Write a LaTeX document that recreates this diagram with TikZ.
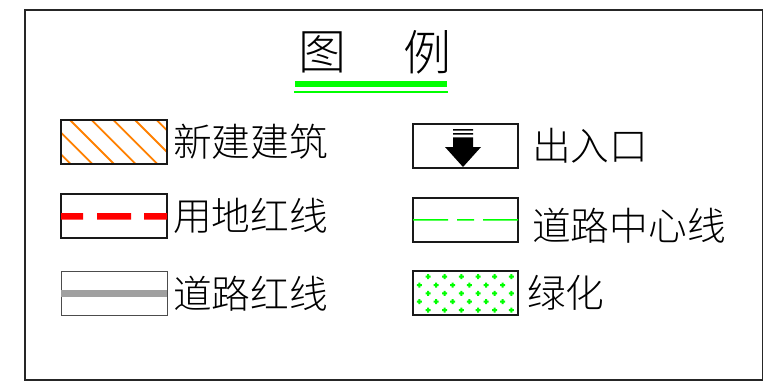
\documentclass[tikz,border=0pt]{standalone}
\usepackage{fontspec}
\newfontfamily\cjk{Noto Sans CJK SC Light}
\definecolor{hatch}{HTML}{FF8000}
\definecolor{gline}{HTML}{00FF00}
\definecolor{groad}{HTML}{A0A0A0}
\tikzset{
  legendbox/.style={draw=black!90,line width=2pt,minimum width=105pt,minimum height=44pt,inner sep=0pt,outer sep=0pt,anchor=north west},
  lab/.style={font=\cjk\fontsize{38.7}{38.7}\selectfont,anchor=west,inner sep=0pt,text=black},
  titlelab/.style={font=\cjk\fontsize{48}{48}\selectfont,anchor=center,inner sep=0pt,text=black},
  hatchline/.style={draw=hatch,line width=1.8pt},
}
\newcommand{\plusat}[2]{\fill[gline] (#1-2.5,#2-1) rectangle (#1+2.5,#2+1) (#1-1,#2-2.5) rectangle (#1+1,#2+2.5);}
\begin{document}
\begin{tikzpicture}[x=1pt,y=-1pt]
\useasboundingbox (0,0) rectangle (763,383);
\draw[black!85,line width=1.4pt] (25,10) rectangle (762.2,380);
% title
\node[titlelab] (t1) at (322,52) {图};
\node[titlelab] (t2) at (427,52) {例};
\fill[gline] (294.7,80.7) rectangle (447.3,86.7);
\fill[gline] (294,90.9) rectangle (448,92.6);
% hatch box
\begin{scope}
\clip (61,120) rectangle (167,164);
\foreach \x in {70,91.7,113.3,135,156.7,48.4,26.7}
  \draw[hatchline] (\x,120)--(\x+44,164);
\end{scope}
\node[legendbox,minimum width=106pt] (a) at (61,120) {};
\node[lab] (la) at (173,142) {新建建筑};
% red
\node[legendbox,minimum width=106pt] (b) at (61,194) {};
\fill[red] (61,213) rectangle (83,219.5) (97,213) rectangle (131,219.5) (144,213) rectangle (167,219.5);
\node[lab] (lb) at (173,216) {用地红线};
% grey
\node[legendbox,minimum width=106pt,line width=1pt,draw=black!70] (c) at (61,271) {};
\fill[groad] (61,290.3) rectangle (167,296.5);
\node[lab] (lc) at (173,294) {道路红线};
% entrance
\node[legendbox] (d) at (413,124) {};
\fill[black] (453,129) rectangle (473,130.5) (453,133) rectangle (473,134.5) (453,137.3) rectangle (473,147);
\fill[black] (445,147)--(481,147)--(463,167)--cycle;
\node[lab] (ld) at (532,146) {出入口};
% centre line
\node[legendbox] (e) at (413,198) {};
\fill[gline] (413,219) rectangle (448,220.5) (457,219) rectangle (474,220.5) (483,219) rectangle (518,220.5);
\node[lab] (le) at (532,226) {道路中心线};
% green
\node[legendbox] (f) at (413,271) {};
\foreach \y in {276.7,293.3,310} \foreach \x in {428,444.7,461.3,478,494.7,511.3} {\plusat{\x}{\y}}
\foreach \y in {285,301.7} \foreach \x in {419.3,436,452.7,469.3,486,502.7} {\plusat{\x}{\y}}
\node[lab] (lf) at (527,293) {绿化};
\end{tikzpicture}
\end{document}
